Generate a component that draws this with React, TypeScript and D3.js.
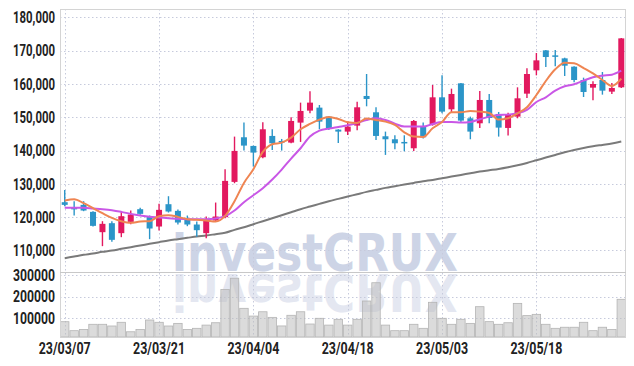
import React from 'react';
import { scaleBand, scaleLinear, line, curveMonotoneX } from 'd3';

// trading days shown on the chart
const dates = [
  '23/03/07', '23/03/08', '23/03/09', '23/03/10', '23/03/13', '23/03/14', '23/03/15', '23/03/16', '23/03/17', '23/03/20',
  '23/03/21', '23/03/22', '23/03/23', '23/03/24', '23/03/27', '23/03/28', '23/03/29', '23/03/30', '23/03/31', '23/04/03',
  '23/04/04', '23/04/05', '23/04/06', '23/04/07', '23/04/10', '23/04/11', '23/04/12', '23/04/13', '23/04/14', '23/04/17',
  '23/04/18', '23/04/19', '23/04/20', '23/04/21', '23/04/24', '23/04/25', '23/04/26', '23/04/27', '23/04/28', '23/05/02',
  '23/05/03', '23/05/04', '23/05/08', '23/05/09', '23/05/10', '23/05/11', '23/05/12', '23/05/15', '23/05/16', '23/05/17',
  '23/05/18', '23/05/19', '23/05/22', '23/05/23', '23/05/24', '23/05/25', '23/05/26', '23/05/30', '23/05/31', '23/06/01',
];

const opens = [
  124500, 122800, 123700, 121600, 115500, 118200, 115200, 118600, 122400, 120300,
  117200, 123900, 121900, 119500, 117800, 115200, 119000, 120000, 130600, 144000,
  141400, 138000, 144400, 142900, 142400, 148400, 152000, 152900, 150200, 146300,
  145700, 147500, 156400, 151500, 144300, 143400, 142600, 140700, 147200, 147800,
  156000, 152400, 160200, 149700, 148200, 155200, 151000, 146800, 150200, 157100,
  164100, 170100, 168600, 167700, 165200, 161200, 158900, 161200, 157700, 159000,
];
const highs = [
  128200, 124800, 124800, 121800, 118800, 118800, 121600, 122000, 122800, 120500,
  124000, 126300, 122300, 120500, 118700, 120200, 124400, 134400, 144200, 148400,
  141500, 148500, 146400, 143500, 150000, 154400, 157800, 153700, 150400, 146400,
  148700, 154700, 163000, 153000, 145700, 144600, 144600, 149200, 148400, 159700,
  162600, 158600, 160300, 150200, 157900, 157000, 151600, 151400, 159000, 164700,
  169300, 170200, 170200, 167900, 165300, 161900, 160800, 163600, 160300, 173800,
];
const lows = [
  123300, 120500, 121800, 117200, 111300, 112600, 114000, 117900, 120700, 113400,
  116000, 121400, 117800, 117300, 114100, 113700, 118900, 119700, 130200, 140000,
  135200, 137700, 140200, 140000, 142200, 142600, 151200, 146400, 146200, 142300,
  144700, 146100, 153300, 143200, 138700, 140400, 139800, 139900, 143600, 147500,
  151200, 151600, 148600, 143400, 146800, 148200, 144200, 144500, 149700, 155800,
  162600, 165100, 165300, 162400, 160500, 156100, 155100, 156800, 157000, 158800,
];
const closes = [
  123700, 122500, 122000, 117400, 118000, 113200, 120300, 120800, 121000, 116600,
  122200, 121700, 118400, 117800, 116100, 119200, 120200, 130900, 139900, 141500,
  139400, 146400, 142200, 142400, 148900, 151900, 154400, 148700, 146700, 145700,
  147200, 153000, 155500, 144400, 143400, 142200, 142200, 148900, 144000, 156000,
  151700, 157000, 149000, 145700, 155200, 149800, 146900, 150700, 155700, 163000,
  167100, 168100, 168200, 165500, 161200, 157600, 160000, 158000, 158800, 173700,
];

// moving averages as drawn (5, 20, 120 days)
const ma5 = [
  125000, 125400, 124200, 122700, 121200, 119800, 118800, 118300, 118700, 118800,
  120300, 120600, 120100, 119400, 119200, 119000, 118700, 120400, 124800, 130300,
  134400, 139600, 141900, 142400, 143900, 146400, 148000, 149300, 150100, 149500,
  148500, 148300, 149600, 149200, 148700, 147700, 145500, 144200, 144100, 146700,
  148600, 151500, 151500, 151900, 151700, 151300, 149300, 149700, 151200, 153000,
  156700, 160900, 164400, 166400, 166200, 164800, 163200, 161200, 159400, 161600,
];
const ma20 = [
  122800, 122800, 122800, 122600, 122400, 122100, 121600, 121000, 120500, 120100,
  119900, 119700, 119500, 119400, 119400, 119400, 119600, 120300, 122000, 124500,
  126600, 128700, 131300, 134300, 137600, 140700, 144200, 146000, 146600, 147100,
  147600, 148300, 149200, 149700, 149200, 148100, 147200, 147200, 147200, 148000,
  148600, 148600, 148400, 148600, 149400, 150200, 150700, 150800, 151200, 152200,
  154600, 156000, 158000, 159300, 159900, 161000, 162000, 162500, 162800, 164000,
];
const ma120 = [
  107700, 108200, 108700, 109100, 109600, 110000, 110500, 111000, 111500, 112000,
  112500, 113000, 113400, 113800, 114200, 114500, 114900, 115300, 116200, 117000,
  117900, 118800, 119700, 120600, 121500, 122400, 123200, 124000, 124800, 125500,
  126200, 126900, 127600, 128200, 128800, 129300, 129800, 130300, 130800, 131200,
  131700, 132200, 132700, 133200, 133700, 134100, 134500, 135000, 135600, 136300,
  137100, 137900, 138700, 139500, 140200, 140800, 141300, 141700, 142100, 142700,
];

const volumes = [
  82800, 41000, 47000, 70700, 70700, 62800, 80000, 36000, 47000, 90700,
  80000, 62800, 75000, 47000, 52000, 67000, 78000, 233000, 285000, 145000,
  109000, 129000, 103000, 63000, 112600, 129000, 72000, 98600, 67000, 94000,
  67000, 94000, 179000, 264000, 67000, 41000, 41000, 70700, 52000, 173000,
  98600, 70700, 94000, 75000, 152600, 83000, 70700, 78000, 168000, 111000,
  117000, 70700, 52000, 57000, 57000, 80000, 41000, 57000, 47000, 187000,
];

const priceTicks = [110000, 120000, 130000, 140000, 150000, 160000, 170000, 180000];
const volumeTicks = [100000, 200000, 300000];
const dateTicks = ['23/03/07', '23/03/21', '23/04/04', '23/04/18', '23/05/03', '23/05/18'];

const UP = '#e2195f';
const DOWN = '#2b95c8';
const GRID = '#c6cadc';
const FONT = 'Roboto, "Liberation Sans", sans-serif';

const L = 60;
const R = 626;
const PRICE_T = 9;
const PRICE_B = 272;
const VOL_B = 337;

export default function App() {
  const x = scaleBand<string>().domain(dates).range([L, R]);
  const cx = (i: number) => (x(dates[i]) ?? 0) + x.bandwidth() / 2;
  const y = scaleLinear().domain([103450, 182520]).range([272.3, 9]);
  const yv = scaleLinear().domain([0, 300000]).range([339.5, 275]);

  const maLine = line<number>()
    .x((_, i) => cx(i))
    .y((v) => y(v))
    .curve(curveMonotoneX);

  const fmt = (n: number) => n.toLocaleString('en-US');

  return (
    <div style={{ position: 'fixed', left: 0, top: 0, width: 634, height: 366, background: '#fff' }}>
      <svg width={634} height={366} style={{ display: 'block' }}>
        <defs>
          <clipPath id="price-clip">
            <rect x={L} y={PRICE_T} width={R - L} height={PRICE_B - PRICE_T} />
          </clipPath>
          <clipPath id="vol-clip">
            <rect x={L} y={PRICE_B} width={R - L} height={VOL_B - PRICE_B} />
          </clipPath>
        </defs>

        {/* watermark + reflection */}
        <g fontFamily="'DejaVu Sans', 'Liberation Sans', sans-serif" fontWeight={700} fontSize={52}>
          <text x={172} y={271} fill="#cdd4e6" textLength={286} lengthAdjust="spacingAndGlyphs">
            investCRUX
          </text>
          <g clipPath="url(#vol-clip)">
            <text
              x={172}
              y={271}
              fill="#e4e7f1"
              textLength={286}
              lengthAdjust="spacingAndGlyphs"
              transform={`translate(0, ${272.5 * 2}) scale(1,-1)`}
            >
              investCRUX
            </text>
          </g>
        </g>

        {/* grid */}
        <g stroke={GRID} strokeWidth={1} strokeDasharray="1.5 2.5">
          {priceTicks.map((t) => (
            <line key={t} x1={L} x2={R} y1={Math.round(y(t)) + 0.5} y2={Math.round(y(t)) + 0.5} />
          ))}
          {volumeTicks.map((t) => (
            <line key={t} x1={L} x2={R} y1={Math.round(yv(t)) + 0.5} y2={Math.round(yv(t)) + 0.5} />
          ))}
          {dateTicks.map((d) => {
            const i = dates.indexOf(d);
            return <line key={d} x1={Math.round(cx(i)) + 0.5} x2={Math.round(cx(i)) + 0.5} y1={PRICE_T} y2={VOL_B} />;
          })}
        </g>

        {/* volume */}
        <g clipPath="url(#vol-clip)">
          {volumes.map((v, i) => (
            <rect
              key={i}
              x={(x(dates[i]) ?? 0) + 0.5}
              y={yv(v)}
              width={x.bandwidth() - 1}
              height={VOL_B - yv(v)}
              fill="rgba(190,190,190,0.55)"
              stroke="#b4b4b4"
              strokeWidth={0.8}
            />
          ))}
        </g>

        {/* price */}
        <g clipPath="url(#price-clip)">
          <path d={maLine(ma120) ?? ''} fill="none" stroke="#7a7a7a" strokeWidth={2} />
          {dates.map((d, i) => {
            const up = closes[i] >= opens[i];
            const c = up ? UP : DOWN;
            const top = y(Math.max(opens[i], closes[i]));
            const bot = y(Math.min(opens[i], closes[i]));
            return (
              <g key={d}>
                <line x1={cx(i)} x2={cx(i)} y1={y(highs[i])} y2={y(lows[i])} stroke={c} strokeWidth={1.4} />
                <rect x={cx(i) - 3} y={top} width={6} height={Math.max(1.5, bot - top)} fill={c} />
              </g>
            );
          })}
          <path d={maLine(ma20) ?? ''} fill="none" stroke="#c957e6" strokeWidth={2} />
          <path d={maLine(ma5) ?? ''} fill="none" stroke="#ef8552" strokeWidth={2} />
        </g>

        {/* frame */}
        <g fill="none" stroke="#d4d4d4" strokeWidth={1}>
          <rect x={L + 0.5} y={PRICE_T + 0.5} width={R - L - 1} height={VOL_B - PRICE_T} />
          <line x1={L} x2={R} y1={PRICE_B + 0.5} y2={PRICE_B + 0.5} stroke="#c8c8c8" />
        </g>

        {/* axis labels */}
        <g fontFamily={FONT} fontSize={16.5} fontWeight={700} fill="#222">
          {priceTicks.map((t) => (
            <text key={t} x={55} y={y(t)} dy="0.35em" textAnchor="end" textLength={42} lengthAdjust="spacingAndGlyphs">
              {fmt(t)}
            </text>
          ))}
          {volumeTicks.map((t) => (
            <text key={t} x={55} y={yv(t)} dy="0.35em" textAnchor="end" textLength={42} lengthAdjust="spacingAndGlyphs">
              {t}
            </text>
          ))}
          {dateTicks.map((d) => (
            <text
              key={d}
              x={cx(dates.indexOf(d))}
              y={354}
              textAnchor="middle"
              textLength={52}
              lengthAdjust="spacingAndGlyphs"
            >
              {d}
            </text>
          ))}
        </g>
      </svg>
    </div>
  );
}
